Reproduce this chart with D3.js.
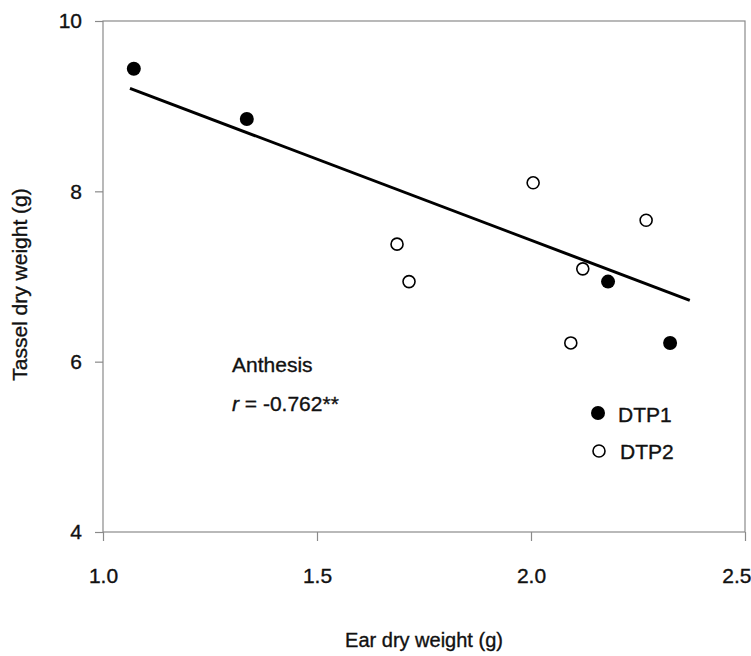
<!DOCTYPE html>
<meta charset="utf-8">
<script src="https://d3js.org/d3.v7.min.js"></script>
<style>
body { margin: 0; background: #fff; }
text { font-family: "Liberation Sans", Arial, sans-serif; fill: #111; stroke: #111; stroke-width: 0.35px; }
.axis path, .axis line { stroke: #8a8a8a; stroke-width: 1.2px; }
.axis text { font-size: 21px; }
.frame { fill: none; stroke: #8a8a8a; stroke-width: 1.2px; }
</style>
<body>
<script>

// DTP1 (filled) and DTP2 (open) points
var dtp1Ear = [1.072, 1.336, 2.180, 2.325];
var dtp1Tassel = [9.44, 8.85, 6.94, 6.22];
var dtp2Ear = [2.005, 2.269, 1.687, 1.715, 2.121, 2.093];
var dtp2Tassel = [8.10, 7.66, 7.38, 6.94, 7.09, 6.22];

// regression line end points
var fitEar = [1.063, 2.371];
var fitTassel = [9.21, 6.72];

var xTicks = [1.0, 1.5, 2.0, 2.5];
var yTicks = [4, 6, 8, 10];

var margin = {top: 21, right: 6, bottom: 124, left: 103};
var width = 751 - margin.left - margin.right,
    height = 656 - margin.top - margin.bottom;

var svg = d3.select("body").append("svg")
    .attr("width", 751)
    .attr("height", 656)
  .append("g")
    .attr("transform", "translate(" + margin.left + "," + margin.top + ")");

var xScale = d3.scaleLinear().domain([1.0, 2.5]).range([0, width]);
var yScale = d3.scaleLinear().domain([4, 10]).range([height, 0]);

svg.append("rect")
    .attr("class", "frame")
    .attr("width", width)
    .attr("height", height);

svg.append("g")
    .attr("class", "x axis")
    .attr("transform", "translate(0," + height + ")")
    .call(d3.axisBottom(xScale).tickValues(xTicks).tickFormat(d3.format(".1f")).tickSize(9).tickPadding(27))
    .call(function(g) { g.select(".domain").remove(); })
    // last label sits against the right edge like the original
    .call(function(g) { g.selectAll(".tick:last-of-type text").attr("text-anchor", "end").attr("x", 6); });

svg.append("g")
    .attr("class", "y axis")
    .call(d3.axisLeft(yScale).tickValues(yTicks).tickFormat(d3.format("d")).tickSize(8).tickPadding(13))
    .call(function(g) { g.select(".domain").remove(); });

// regression line
var fit = fitEar.map(function(d, i) { return [d, fitTassel[i]]; });
svg.append("path")
    .datum(fit)
    .attr("fill", "none")
    .attr("stroke", "#000")
    .attr("stroke-width", 3)
    .attr("d", d3.line().x(function(d) { return xScale(d[0]); }).y(function(d) { return yScale(d[1]); }));

var open = dtp2Ear.map(function(d, i) { return {x: d, y: dtp2Tassel[i]}; });
var filled = dtp1Ear.map(function(d, i) { return {x: d, y: dtp1Tassel[i]}; });

svg.selectAll(".open").data(open).enter().append("circle")
    .attr("class", "open")
    .attr("cx", function(d) { return xScale(d.x); })
    .attr("cy", function(d) { return yScale(d.y); })
    .attr("r", 6)
    .attr("fill", "#fff")
    .attr("stroke", "#000")
    .attr("stroke-width", 1.6);

svg.selectAll(".filled").data(filled).enter().append("circle")
    .attr("class", "filled")
    .attr("cx", function(d) { return xScale(d.x); })
    .attr("cy", function(d) { return yScale(d.y); })
    .attr("r", 7)
    .attr("fill", "#000");

// annotation
svg.append("text").attr("x", 129).attr("y", 351).style("font-size", "21px").text("Anthesis");
var rText = svg.append("text").attr("x", 129).attr("y", 390).style("font-size", "21px");
rText.append("tspan").style("font-style", "italic").text("r");
rText.append("tspan").text(" = -0.762**");

// legend
var legend = svg.append("g").attr("transform", "translate(495,392)");
legend.append("circle").attr("cx", 0).attr("cy", 0).attr("r", 7).attr("fill", "#000");
legend.append("text").attr("x", 20).attr("y", 9).style("font-size", "21px").text("DTP1");
legend.append("circle").attr("cx", 1).attr("cy", 38).attr("r", 6)
    .attr("fill", "#fff").attr("stroke", "#000").attr("stroke-width", 1.6);
legend.append("text").attr("x", 22).attr("y", 46).style("font-size", "21px").text("DTP2");

// axis titles
svg.append("text")
    .attr("x", width / 2).attr("y", 626)
    .attr("text-anchor", "middle")
    .style("font-size", "20px")
    .text("Ear dry weight (g)");

svg.append("text")
    .attr("transform", "translate(-76," + (height / 2 + 8) + ") rotate(-90)")
    .attr("text-anchor", "middle")
    .style("font-size", "21px")
    .text("Tassel dry weight (g)");

</script>
</body>
